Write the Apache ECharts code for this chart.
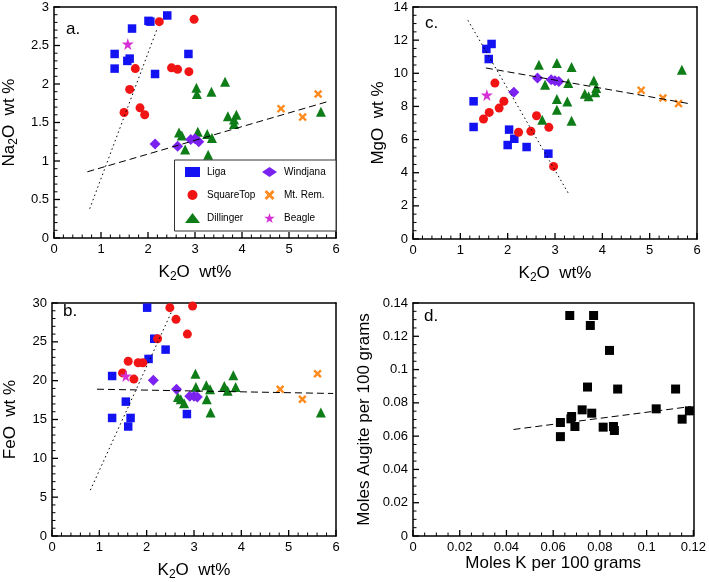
<!DOCTYPE html>
<html><head><meta charset="utf-8">
<script src="https://cdn.jsdelivr.net/npm/echarts@6/dist/echarts.min.js"></script>
<style>html,body{margin:0;padding:0;background:#fff}#c{width:709px;height:582px}</style>
</head><body><div id="c"></div>
<script>
// ---- Panel a: Na2O vs K2O ----
const ligaNa = [[1.29,2.39],[1.29,2.20],[1.56,2.30],[1.61,2.33],[1.66,2.72],[2.01,2.82],[2.05,2.81],[2.41,2.89],[2.15,2.13],[2.86,2.39]];
const squareTopNa = [[2.24,2.81],[2.98,2.84],[1.73,2.20],[2.50,2.21],[2.63,2.19],[2.87,2.16],[1.61,1.93],[1.83,1.69],[1.93,1.60],[1.49,1.63]];
const dillingerNa = [[3.03,1.95],[3.04,1.87],[3.35,1.90],[3.64,2.03],[3.70,1.58],[3.88,1.60],[3.83,1.54],[3.83,1.48],[2.66,1.37],[2.72,1.33],[3.06,1.38],[3.26,1.35],[3.36,1.30],[2.79,1.15],[3.28,1.08],[5.68,1.64]];
const windjanaNa = [[2.15,1.22],[2.63,1.19],[2.91,1.28],[3.00,1.29],[3.08,1.25]];
const mtRemNa = [[4.83,1.68],[5.29,1.57],[5.62,1.87]];
const beagleNa = [[1.57,2.52]];
const dashA = [[0.71,0.86],[5.87,1.78]];
const dotA = [[0.76,0.38],[2.19,2.71]];

// ---- Panel b: FeO vs K2O ----
const ligaFe = [[2.01,29.4],[2.16,25.4],[2.40,24.0],[2.04,22.8],[1.27,20.6],[1.56,17.3],[1.27,15.2],[1.66,15.2],[1.61,14.1],[2.85,15.7]];
const squareTopFe = [[2.49,29.4],[2.97,29.6],[2.62,27.9],[2.86,26.0],[2.23,25.4],[1.61,22.5],[1.82,22.3],[1.92,22.3],[1.49,21.0],[1.73,20.2]];
const dillingerFe = [[3.03,20.9],[3.83,20.7],[3.04,19.2],[3.26,19.4],[3.34,18.9],[3.64,19.3],[3.88,19.2],[3.71,18.7],[2.66,17.9],[2.72,17.6],[2.79,17.1],[3.27,17.6],[3.35,15.9],[5.68,15.9]];
const windjanaFe = [[2.14,20.05],[2.63,18.9],[2.91,18.0],[3.00,18.0],[3.07,17.9]];
const mtRemFe = [[4.82,18.9],[5.29,17.6],[5.61,20.9]];
const beagleFe = [[1.56,20.6]];
const dashB = [[0.95,18.9],[5.94,18.35]];
const dotB = [[0.81,5.9],[2.52,28.8]];

// ---- Panel c: MgO vs K2O ----
const ligaMg = [[1.66,11.77],[1.55,11.47],[1.60,10.86],[1.28,8.31],[1.28,6.76],[2.03,6.60],[2.14,6.05],[2.00,5.67],[2.40,5.55],[2.86,5.15]];
const squareTopMg = [[1.73,9.41],[1.92,8.31],[1.82,7.90],[1.61,7.64],[1.49,7.24],[2.61,7.44],[2.87,6.74],[2.49,6.50],[2.23,6.44],[2.97,4.38]];
const dillingerMg = [[2.66,10.52],[3.04,10.62],[3.35,10.38],[2.79,9.31],[3.28,9.41],[3.82,9.57],[3.87,9.11],[3.63,8.77],[3.71,8.61],[3.85,8.85],[3.04,8.45],[3.26,8.29],[3.04,7.80],[2.73,7.20],[3.35,7.14],[5.68,10.22]];
const windjanaMg = [[2.13,8.85],[2.63,9.72],[2.92,9.61],[3.00,9.55],[3.08,9.51]];
const mtRemMg = [[4.82,8.97],[5.28,8.51],[5.61,8.17]];
const beagleMg = [[1.56,8.69]];
const dashC = [[1.54,10.32],[5.83,8.17]];
const dotC = [[1.16,13.2],[3.30,2.67]];

// ---- Panel d: Moles Augite vs Moles K ----
const augiteK = [[0.0671,0.1325],[0.0773,0.1325],[0.0759,0.1265],[0.0841,0.1115],[0.0747,0.0895],[0.0876,0.0883],[0.1124,0.0883],[0.1041,0.0764],[0.1183,0.0752],[0.1152,0.0702],[0.0724,0.0758],[0.0765,0.0738],[0.0679,0.0718],[0.0676,0.0704],[0.0631,0.0682],[0.0693,0.0658],[0.0814,0.0654],[0.0858,0.0658],[0.0862,0.0634],[0.0631,0.0597]];
const dashD = [[0.0430,0.0640],[0.1190,0.0778]];

const groups = ['Liga','SquareTop','Dillinger','Windjana','Mt. Rem.','Beagle'];

const STAR = 'path://M50,0 L61,35 L98,35 L68,57 L79,91 L50,70 L21,91 L32,57 L2,35 L39,35 Z';
const CROSS = 'path://M0,20 L20,0 L50,30 L80,0 L100,20 L70,50 L100,80 L80,100 L50,70 L20,100 L0,80 L30,50 Z';
const styles = {
  'Liga': {symbol:'rect', size:8.5, color:'#1212f2'},
  'SquareTop': {symbol:'circle', size:9, color:'#f01414'},
  'Dillinger': {symbol:'triangle', size:10, color:'#0f7d17'},
  'Windjana': {symbol:'diamond', size:11, color:'#7b22f0'},
  'Mt. Rem.': {symbol:CROSS, size:8.5, color:'#ff8a1e'},
  'Beagle': {symbol:STAR, size:12, color:'#d530d5'}
};

const font = 'Liberation Sans, Arial, Helvetica, sans-serif';
const subRich = {sub:{fontSize:12, fontFamily:font, color:'#000', padding:[9,0,0,0]}};

function axis(gi, max, interval, name, gap){
  return {type:'value', gridIndex:gi, min:0, max:max, interval:interval,
    name:name, nameLocation:'middle', nameGap:gap,
    nameTextStyle:{fontSize:17, fontFamily:font, color:'#000', rich:subRich},
    axisLine:{show:true, onZero:false, lineStyle:{color:'#000', width:1.5}},
    axisTick:{show:false}, minorTick:{show:false},
    splitLine:{show:false},
    axisLabel:{fontSize:13, fontFamily:font, color:'#000', margin:5, hideOverlap:false}};
}
// frame-only axis (top / right side of the box)
function frame(gi, max, pos){
  return {type:'value', gridIndex:gi, min:0, max:max, position:pos,
    axisLine:{show:true, onZero:false, lineStyle:{color:'#000', width:1.5}},
    axisTick:{show:false}, axisLabel:{show:false}, splitLine:{show:false}};
}

function scatter(name, data, gi){
  const s = styles[name];
  return {type:'scatter', name:name, xAxisIndex:gi, yAxisIndex:gi, data:data,
    symbol:s.symbol, symbolSize:s.size, itemStyle:{color:s.color, opacity:1}, z:3};
}
function line(data, gi, dash){
  return {type:'line', xAxisIndex:gi, yAxisIndex:gi, data:data, symbol:'none', silent:true, z:5,
    lineStyle:{color:'#000', width:1, type:dash}};
}

const panelData = [
  [ligaNa, squareTopNa, dillingerNa, windjanaNa, mtRemNa, beagleNa],
  [ligaMg, squareTopMg, dillingerMg, windjanaMg, mtRemMg, beagleMg],
  [ligaFe, squareTopFe, dillingerFe, windjanaFe, mtRemFe, beagleFe]
];
const series = [];
panelData.forEach((arrs, gi) => {
  arrs.forEach((d, k) => series.push(scatter(groups[k], d, gi)));
});
series.push(line(dashA, 0, [7,4]));
series.push(line(dotA, 0, [1.5,3]));
series.push(line(dashC, 1, [7,4]));
series.push(line(dotC, 1, [1.5,3]));
series.push(line(dashB, 2, [7,4]));
series.push(line(dotB, 2, [1.5,3]));
series.push({type:'scatter', name:'augite', xAxisIndex:3, yAxisIndex:3, data:augiteK,
  symbol:'rect', symbolSize:9, itemStyle:{color:'#000', opacity:1}, z:3});
series.push(line(dashD, 3, [7,4]));

const titleStyle = {fontSize:17, fontWeight:'normal', fontFamily:font, color:'#000'};
const option = {
  animation:false,
  textStyle:{fontFamily:font},
  grid:[
    {left:52, top:7, width:284, height:231, show:false},
    {left:413, top:7, width:284, height:232, show:false},
    {left:52, top:303, width:284, height:233, show:false},
    {left:413, top:303, width:284, height:233, show:false}
  ],
  xAxis:[
    axis(0, 6, 1, 'K{sub|2}O  wt%', 24),
    axis(1, 6, 1, 'K{sub|2}O  wt%', 24),
    axis(2, 6, 1, 'K{sub|2}O  wt%', 24),
    axis(3, 0.12, 0.02, 'Moles K per 100 grams', 15),
    frame(0, 6, 'top'), frame(1, 6, 'top'), frame(2, 6, 'top'), frame(3, 0.12, 'top')
  ],
  yAxis:[
    axis(0, 3, 0.5, 'Na{sub|2}O  wt %', 34),
    axis(1, 14, 2, 'MgO  wt %', 26),
    axis(2, 30, 5, 'FeO  wt %', 33),
    axis(3, 0.14, 0.02, 'Moles Augite per 100 grams', 40),
    frame(0, 3, 'right'), frame(1, 14, 'right'), frame(2, 30, 'right'), frame(3, 0.14, 'right')
  ],
  title:[
    {text:'a.', left:66, top:21, padding:0, textStyle:titleStyle},
    {text:'c.', left:425, top:15, padding:0, textStyle:titleStyle},
    {text:'b.', left:63, top:303, padding:0, textStyle:titleStyle},
    {text:'d.', left:424, top:308, padding:0, textStyle:titleStyle}
  ],
  legend:[
    {data:groups.slice(0,3), orient:'vertical', left:185, top:167, padding:0, itemGap:13,
     itemWidth:15, itemHeight:10, z:10, textStyle:{fontSize:10, fontFamily:font, color:'#000', padding:[0,0,0,2]}},
    {data:groups.slice(3,6), orient:'vertical', left:262, top:167, padding:0, itemGap:13,
     itemWidth:15, itemHeight:10, z:10, textStyle:{fontSize:10, fontFamily:font, color:'#000', padding:[0,0,0,2]}}
  ],
  graphic:[
    {type:'rect', z:8, shape:{x:174.5, y:160, width:161.5, height:71},
     style:{fill:'#fff', stroke:'#333', lineWidth:1}}
  ],
  series:series
};
const chart = echarts.init(document.getElementById('c'), null, {renderer:'canvas'});
chart.setOption(option);

// ---- inward major/minor ticks, positioned through each axis' own scale ----
function toPx(gi, v, dim){
  let r;
  try { r = chart.convertToPixel(dim === 'x' ? {xAxisIndex: gi} : {yAxisIndex: gi}, v); } catch (e) {}
  if (typeof r === 'number' && isFinite(r)) return r;
  if (Array.isArray(r) && isFinite(r[dim === 'x' ? 0 : 1])) return r[dim === 'x' ? 0 : 1];
  try {
    const ax = chart.getModel().getComponent(dim === 'x' ? 'xAxis' : 'yAxis', gi).axis;
    return ax.toGlobalCoord(ax.dataToCoord(v));
  } catch (e) {}
  return NaN;
}
const tickSpec = [
  {xmax:6, xint:1, xsplit:5, ymax:3, yint:0.5, ysplit:5},
  {xmax:6, xint:1, xsplit:5, ymax:14, yint:2, ysplit:4},
  {xmax:6, xint:1, xsplit:5, ymax:30, yint:5, ysplit:5},
  {xmax:0.12, xint:0.02, xsplit:4, ymax:0.14, yint:0.02, ysplit:4}
];
const zr = chart.getZr();
tickSpec.forEach((t, gi) => {
  const xs = t.xint / t.xsplit, ys = t.yint / t.ysplit;
  const yBase = toPx(gi, 0, 'y'), xBase = toPx(gi, 0, 'x');
  for (let i = 0; i * xs <= t.xmax + 1e-9; i++) {
    const major = i % t.xsplit === 0, len = major ? 6 : 3.5;
    const x = toPx(gi, i * xs, 'x');
    if (!isFinite(x) || !isFinite(yBase)) continue;
    zr.add(new echarts.graphic.Line({silent:true, z:1000, zlevel:0,
      shape:{x1:x, y1:yBase, x2:x, y2:yBase - len},
      style:{stroke:'#000', lineWidth: major ? 1.3 : 1}}));
  }
  for (let j = 0; j * ys <= t.ymax + 1e-9; j++) {
    const major = j % t.ysplit === 0, len = major ? 6 : 3.5;
    const y = toPx(gi, j * ys, 'y');
    if (!isFinite(y) || !isFinite(xBase)) continue;
    zr.add(new echarts.graphic.Line({silent:true, z:1000, zlevel:0,
      shape:{x1:xBase, y1:y, x2:xBase + len, y2:y},
      style:{stroke:'#000', lineWidth: major ? 1.3 : 1}}));
  }
});
zr.refreshImmediately && zr.refreshImmediately();
</script>
</body></html>
